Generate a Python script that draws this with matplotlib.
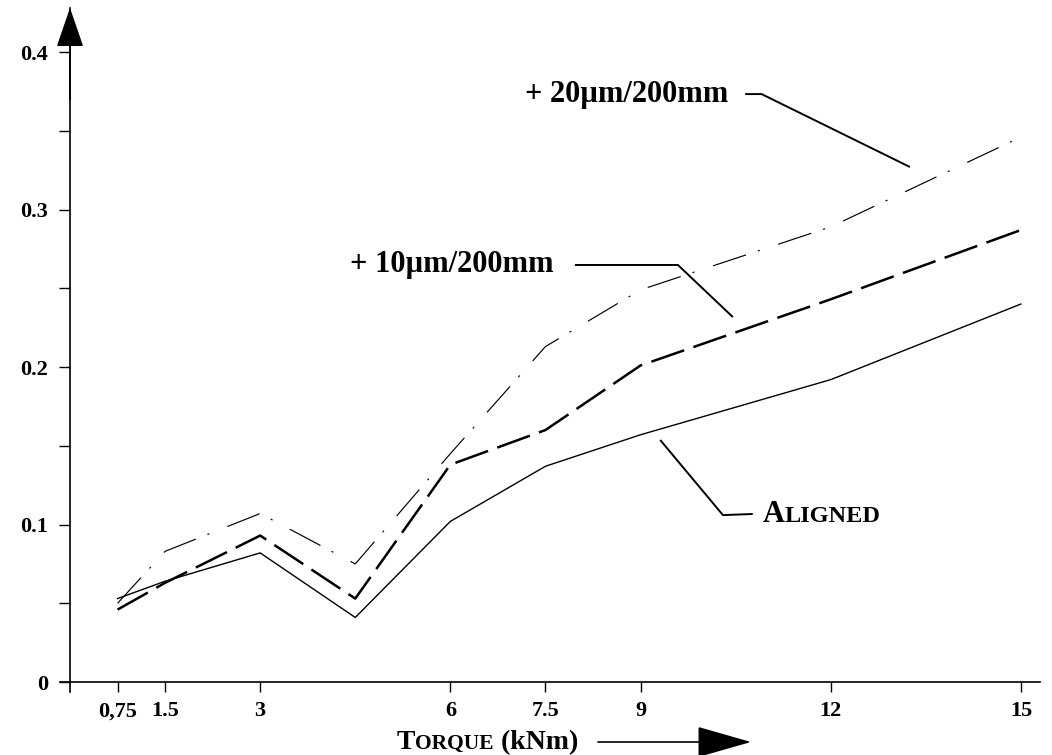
import matplotlib
matplotlib.use('Agg')
import matplotlib.pyplot as plt
from matplotlib.ticker import FixedLocator, MultipleLocator
from matplotlib.transforms import IdentityTransform

# ---- data ----
torque = [0.75, 1.5, 3, 4.5, 6, 7.5, 9, 12, 15]
aligned = [0.053, 0.064, 0.082, 0.041, 0.102, 0.137, 0.157, 0.192, 0.240]
offset_10 = [0.046, 0.063, 0.093, 0.053, 0.138, 0.160, 0.201, 0.243, 0.287]
offset_20 = [0.050, 0.083, 0.107, 0.075, 0.145, 0.213, 0.249, 0.289, 0.346]

x_ticks = [0.75, 1.5, 3, 6, 7.5, 9, 12, 15]
x_tick_labels = ['0,75', '1.5', '3', '6', '7.5', '9', '12', '15']
y_ticks = [0, 0.1, 0.2, 0.3, 0.4]
y_tick_labels = ['0', '0.1', '0.2', '0.3', '0.4']

label_10 = '+ 10µm/200mm'
label_20 = '+ 20µm/200mm'

# ---- style ----
plt.rcParams['font.family'] = ['Liberation Serif', 'DejaVu Serif']
plt.rcParams['lines.scale_dashes'] = False

fig = plt.figure(figsize=(10.52, 7.55), dpi=100)
ax = fig.add_axes([0.0575, 0.0841, 0.931, 0.9054])
ax.set_xlim(-0.15, 15.3)
ax.set_ylim(-0.006, 0.428)
for s in ['top', 'right']:
    ax.spines[s].set_visible(False)
ax.spines['left'].set_position(('data', 0))
ax.spines['bottom'].set_position(('data', 0))
for s in ['left', 'bottom']:
    ax.spines[s].set_linewidth(1.2)

ax.plot(torque, aligned, color='k', lw=1.0)
ax.plot(torque, offset_10, color='k', lw=1.8, dashes=(25, 7))
ax.plot(torque, offset_20, color='k', lw=0.85, dashes=(25, 9, 1.5, 14))

ax.xaxis.set_major_locator(FixedLocator(x_ticks))
ax.set_xticklabels(x_tick_labels)
ax.yaxis.set_major_locator(FixedLocator(y_ticks))
ax.set_yticklabels(y_tick_labels)
ax.yaxis.set_minor_locator(MultipleLocator(0.05))
ax.tick_params(axis='x', direction='out', length=7, width=1.0, pad=7, labelsize=16)
ax.tick_params(axis='y', which='both', direction='out', length=8, width=1.0, pad=8, labelsize=16)
for lbl in ax.get_xticklabels() + ax.get_yticklabels():
    lbl.set_fontweight('bold')

# y-axis arrow head
ax.annotate('', xy=(0, 0.428), xytext=(0, 0.37),
            arrowprops=dict(arrowstyle='-|>,head_length=1.25,head_width=0.43',
                            mutation_scale=20, color='k', lw=1.2,
                            shrinkA=0, shrinkB=0),
            annotation_clip=False)

# series labels and leader lines
ax.text(7.62, 0.2648, label_10, ha='right', va='center', fontsize=22, fontweight='bold')
ax.text(10.38, 0.3733, label_20, ha='right', va='center', fontsize=22, fontweight='bold')
leader_10 = ([7.965, 9.59, 10.457], [0.2648, 0.2648, 0.2317])
leader_20 = ([10.65, 10.91, 13.25], [0.3733, 0.3733, 0.327])
leader_al = ([9.31, 10.30, 10.77], [0.1537, 0.106, 0.1067])
for lx, ly in (leader_10, leader_20, leader_al):
    ax.plot(lx, ly, color='k', lw=1.4, solid_capstyle='butt')

fig.canvas.draw()
renderer = fig.canvas.get_renderer()


def small_caps(x_disp, y_disp, pieces):
    cur = x_disp
    for txt, size in pieces:
        t = fig.text(cur, y_disp, txt, transform=IdentityTransform(),
                     ha='left', va='baseline', fontsize=size, fontweight='bold')
        bb = t.get_window_extent(renderer)
        cur = bb.x1


# ALIGNED label (small caps)
px, py = ax.transData.transform((10.93, 0.1016))
small_caps(px, py, [('A', 22), ('LIGNED', 17.5)])

# x-axis label (small caps) and arrow
small_caps(397, 755 - 749, [('T', 20), ('ORQUE', 15.5), (' (kNm)', 20)])
fig.add_artist(matplotlib.patches.FancyArrowPatch(
    (598, 13), (751, 13), transform=IdentityTransform(),
    arrowstyle='-|>,head_length=1.75,head_width=0.5', mutation_scale=20,
    color='k', lw=1.2, shrinkA=0, shrinkB=0))

fig.savefig('out.png', dpi=100, facecolor='white')
